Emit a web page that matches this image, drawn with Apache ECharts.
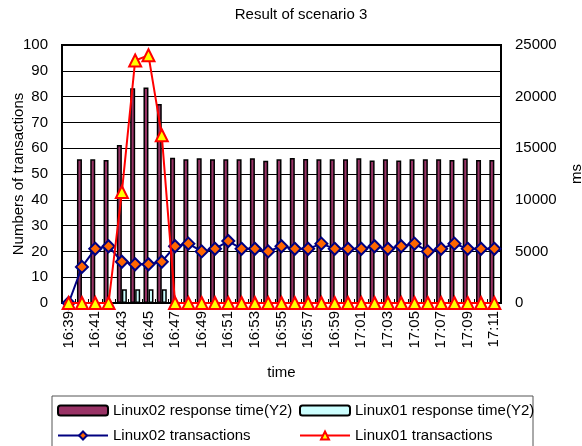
<!DOCTYPE html>
<html>
<head>
<meta charset="utf-8">
<script src="https://cdn.jsdelivr.net/npm/echarts@6/dist/echarts.min.js"></script>
<style>
  html, body { margin: 0; padding: 0; background: #fff; }
  #chart { width: 582px; height: 446px; }
</style>
</head>
<body>
<div id="chart"></div>
<script>
// Minute-by-minute time axis
var categories = ['16:39','16:40','16:41','16:42','16:43','16:44','16:45','16:46','16:47','16:48',
  '16:49','16:50','16:51','16:52','16:53','16:54','16:55','16:56','16:57','16:58',
  '16:59','17:00','17:01','17:02','17:03','17:04','17:05','17:06','17:07','17:08',
  '17:09','17:10','17:11'];

// Response times in ms (right axis)
var linux02Resp = [0, 13920, 13920, 13860, 15310, 20800, 20870, 19280, 14080, 13920,
  14020, 13920, 13920, 13920, 14020, 13790, 13920, 14050, 13950, 13920,
  13920, 13920, 14020, 13820, 13920, 13820, 13920, 13920, 13920, 13860,
  13990, 13860, 13860];
var linux01Resp = [0, 0, 0, 0, 1330, 1330, 1330, 1330, 0, 0,
  0, 0, 0, 0, 0, 0, 0, 0, 0, 0,
  0, 0, 0, 0, 0, 0, 0, 0, 0, 0,
  0, 0, 0];

// Transactions per minute (left axis)
var linux02Tx = [0, 14, 21, 22, 16, 15, 15, 16, 22, 23,
  20, 21, 24, 21, 21, 20, 22, 21, 21, 23,
  21, 21, 21, 22, 21, 22, 23, 20, 21, 23,
  21, 21, 21];
var linux01Tx = [0, 0, 0, 0, 43, 94, 96, 65, 0, 0,
  0, 0, 0, 0, 0, 0, 0, 0, 0, 0,
  0, 0, 0, 0, 0, 0, 0, 0, 0, 0,
  0, 0, 0];

var FONT = "'Liberation Sans', Arial, sans-serif";
var txt = { fontFamily: FONT, fontSize: 15, color: '#000' };

var chart = echarts.init(document.getElementById('chart'), null, { renderer: 'canvas' });

function legendAt(name, left, top, extra) {
  var item = { name: name };
  if (extra) item.itemStyle = extra;
  return {
    data: [item],
    left: left, top: top,
    padding: 0,
    itemWidth: 50, itemHeight: 10,
    textStyle: { fontFamily: FONT, fontSize: 15, color: '#000' },
    selectedMode: false
  };
}

chart.setOption({
  animation: false,
  backgroundColor: '#fff',
  graphic: [
    { type: 'text', x: 301, y: 15,
      style: { text: 'Result of scenario 3', align: 'center', verticalAlign: 'middle',
        font: '15px ' + FONT, fill: '#000' } },
    { type: 'rect', x: 52, y: 396, shape: { width: 481, height: 60 },
      style: { fill: 'none', stroke: '#555', lineWidth: 1 }, z: -1 }
  ],
  legend: [
    legendAt('Linux02 response time(Y2)', 57, 403, { borderColor: '#000', borderWidth: 2 }),
    legendAt('Linux01 response time(Y2)', 299, 403, { borderColor: '#000', borderWidth: 2 }),
    legendAt('Linux02 transactions', 57, 428),
    legendAt('Linux01 transactions', 299, 428)
  ],
  grid: {
    left: 62, right: 81, top: 45, bottom: 143,
    containLabel: false,
    outerBoundsMode: 'none',
    show: true, borderColor: '#000', borderWidth: 2, backgroundColor: 'transparent'
  },
  xAxis: {
    type: 'category',
    data: categories,
    boundaryGap: true,
    name: 'time',
    nameLocation: 'middle',
    nameGap: 62,
    nameMoveOverlap: false,
    nameTextStyle: txt,
    axisLine: { lineStyle: { color: '#000', width: 2 } },
    axisTick: { show: true, inside: true, length: 4, interval: 0, lineStyle: { color: '#000' } },
    axisLabel: { rotate: 90, interval: 1, margin: 8, fontFamily: FONT, fontSize: 15, color: '#000' },
    splitLine: { show: false }
  },
  yAxis: [
    {
      type: 'value', min: 0, max: 100, interval: 10,
      name: 'Numbers of transactions',
      nameLocation: 'middle', nameGap: 36, nameRotate: 90,
      nameMoveOverlap: false,
      nameTextStyle: txt,
      axisLine: { show: true, lineStyle: { color: '#000', width: 2 } },
      axisTick: { show: false },
      axisLabel: { margin: 14, fontFamily: FONT, fontSize: 15, color: '#000' },
      splitLine: { show: true, lineStyle: { color: '#000', width: 1 } }
    },
    {
      type: 'value', min: 0, max: 25000, interval: 5000,
      name: 'ms',
      nameLocation: 'middle', nameGap: 68, nameRotate: 90,
      nameMoveOverlap: false,
      nameTextStyle: txt,
      axisLine: { show: true, lineStyle: { color: '#000', width: 2 } },
      axisTick: { show: false },
      axisLabel: { margin: 14, fontFamily: FONT, fontSize: 15, color: '#000',
        formatter: function (v) { return String(v); } },
      splitLine: { show: false }
    }
  ],
  series: [
    {
      name: 'Linux02 response time(Y2)',
      type: 'bar', yAxisIndex: 1,
      data: linux02Resp,
      barWidth: 5, barGap: '0%',
      itemStyle: { color: '#993366', borderColor: '#000', borderWidth: 1.5 },
      z: 1
    },
    {
      name: 'Linux01 response time(Y2)',
      type: 'bar', yAxisIndex: 1,
      data: linux01Resp,
      barWidth: 5, barGap: '0%',
      itemStyle: { color: '#CCFFFF', borderColor: '#000', borderWidth: 1.5 },
      z: 1
    },
    {
      name: 'Linux02 transactions',
      type: 'line', yAxisIndex: 0,
      data: linux02Tx,
      symbol: 'diamond', symbolSize: 12,
      showAllSymbol: true,
      lineStyle: { color: '#000080', width: 2 },
      itemStyle: { color: '#FF6600', borderColor: '#000080', borderWidth: 2 },
      clip: false,
      z: 3
    },
    {
      name: 'Linux01 transactions',
      type: 'line', yAxisIndex: 0,
      data: linux01Tx,
      symbol: 'triangle', symbolSize: 12,
      showAllSymbol: true,
      lineStyle: { color: '#FF0000', width: 2 },
      itemStyle: { color: '#FFFF00', borderColor: '#FF0000', borderWidth: 2 },
      clip: false,
      z: 4
    }
  ]
});
</script>
</body>
</html>
